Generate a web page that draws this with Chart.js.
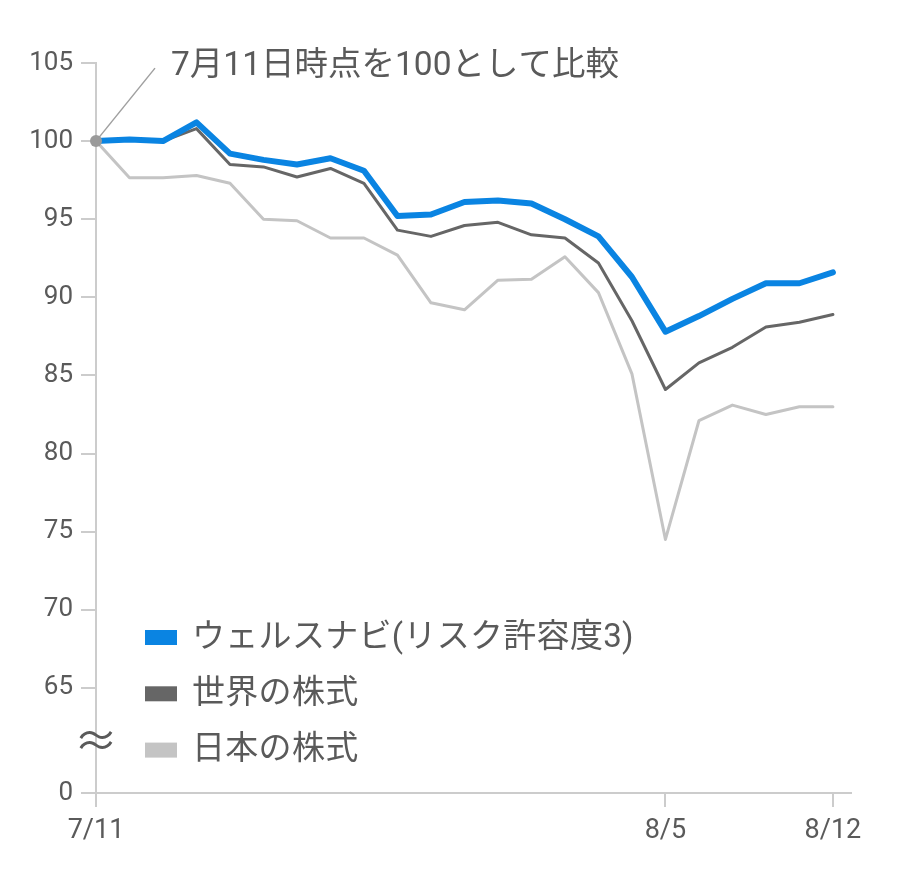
<!DOCTYPE html>
<html>
<head>
<meta charset="utf-8">
<script src="https://cdn.jsdelivr.net/npm/chart.js@4"></script>
<style>
  html, body { margin: 0; padding: 0; background: #ffffff; }
  #wrap { width: 920px; height: 884px; }
</style>
</head>
<body>
<div id="wrap"><canvas id="c" width="920" height="884"></canvas></div>
<script>
const dates = ["7/11","7/12","7/15","7/16","7/17","7/18","7/19","7/22","7/23","7/24","7/25","7/26","7/29","7/30","7/31","8/1","8/2","8/5","8/6","8/7","8/8","8/9","8/12"];
const shownDates = ["7/11","8/5","8/12"];
const seriesNames = ["ウェルスナビ(リスク許容度3)","世界の株式","日本の株式"];
const wealthnavi = [100,100.1,100.0,101.2,99.2,98.8,98.5,98.9,98.1,95.2,95.3,96.1,96.2,96.0,95.0,93.9,91.3,87.8,88.8,89.9,90.9,90.9,91.6];
const worldStocks = [100,100.1,100.0,100.8,98.5,98.35,97.7,98.25,97.3,94.3,93.9,94.6,94.8,94.0,93.8,92.2,88.5,84.1,85.8,86.8,88.1,88.4,88.9];
const japanStocks = [100,97.65,97.65,97.8,97.3,95.0,94.9,93.8,93.8,92.7,89.65,89.2,91.1,91.15,92.6,90.3,85.1,74.5,82.1,83.1,82.5,83.0,83.0];
const yTickValues = [65,70,75,80,85,90,95,100,105];
const annotationText = "7月11日時点を100として比較";

const colors = ["#0a84e2", "#666666", "#c4c4c4"];
const widths = [6, 3, 3];
const textColor = "#5a5a5a";
const axisColor = "#cccccc";
const FONT = "Roboto, 'Noto Sans CJK JP', sans-serif";
// y-axis break: "0" is drawn 105px below 65 (15.6 px per unit above the break)
const Y_BREAK_MIN = 65 - 105 / 15.6;

function toPoints(arr) { return arr.map((v, i) => ({ x: i, y: v })); }

const overlay = {
  id: 'overlay',
  afterDatasetsDraw(chart) {
    const ctx = chart.ctx;
    const xs = chart.scales.x, ys = chart.scales.y;
    const px = xs.getPixelForValue(0), py = ys.getPixelForValue(wealthnavi[0]);
    // leader line
    ctx.save();
    ctx.strokeStyle = "#a0a0a0";
    ctx.lineWidth = 1.5;
    ctx.beginPath();
    ctx.moveTo(px, py);
    ctx.lineTo(px + 59, py - 73);
    ctx.stroke();
    // base point
    ctx.fillStyle = "#9a9a9a";
    ctx.beginPath();
    ctx.arc(px, py, 6, 0, Math.PI * 2);
    ctx.fill();
    // annotation text
    ctx.fillStyle = textColor;
    ctx.font = "33.5px " + FONT;
    ctx.textBaseline = "middle";
    ctx.textAlign = "left";
    ctx.fillText(annotationText, px + 75, py - 74);
    // break symbol
    ctx.font = "44px 'Noto Sans CJK JP', sans-serif";
    ctx.textAlign = "center";
    ctx.fillText("≈", chart.chartArea.left, ys.getPixelForValue(65) + 52);
    // legend
    const lx = chart.chartArea.left + 49;
    const ly0 = 637.5, dy = 56.3;
    ctx.font = "33px " + FONT;
    ctx.textAlign = "left";
    ctx.letterSpacing = "0.3px";
    seriesNames.forEach((name, i) => {
      const y = ly0 + i * dy;
      ctx.fillStyle = colors[i];
      ctx.fillRect(lx, y - 7.5, 32, 15);
      ctx.fillStyle = textColor;
      ctx.fillText(name, lx + 47, y + 1);
    });
    ctx.restore();
  }
};

new Chart(document.getElementById('c'), {
  type: 'line',
  data: {
    datasets: [wealthnavi, worldStocks, japanStocks].map((arr, i) => ({
      label: seriesNames[i],
      data: toPoints(arr),
      borderColor: colors[i],
      backgroundColor: colors[i],
      borderWidth: widths[i],
      pointRadius: 0,
      tension: 0,
      borderJoinStyle: 'round',
      borderCapStyle: 'round'
    }))
  },
  options: {
    responsive: false,
    animation: false,
    devicePixelRatio: 1,
    layout: { padding: { left: 0, top: 63, right: 69, bottom: 0 } },
    plugins: { legend: { display: false }, tooltip: { enabled: false } },
    scales: {
      x: {
        type: 'linear',
        min: 0,
        max: 22.54,
        afterBuildTicks(s) {
          s.ticks = shownDates.map(d => ({ value: dates.indexOf(d) }));
        },
        afterFit(s) { s.height = 91; },
        ticks: {
          autoSkip: false,
          maxRotation: 0,
          padding: 8,
          color: textColor,
          font: { family: FONT, size: 27 },
          callback: (v) => dates[v]
        },
        grid: { drawOnChartArea: false, drawTicks: true, tickLength: 14, color: axisColor, lineWidth: 2 },
        border: { display: true, color: axisColor, width: 2 }
      },
      y: {
        type: 'linear',
        min: Y_BREAK_MIN,
        max: 105,
        afterBuildTicks(s) {
          s.ticks = [{ value: Y_BREAK_MIN }].concat(yTickValues.map(v => ({ value: v })));
        },
        afterFit(s) { s.width = 96; },
        ticks: {
          autoSkip: false,
          padding: 8,
          color: textColor,
          font: { family: FONT, size: 26 },
          callback: (v) => (v < 60 ? "0" : String(v))
        },
        grid: { drawOnChartArea: false, drawTicks: true, tickLength: 15, color: axisColor, lineWidth: 2 },
        border: { display: true, color: axisColor, width: 2 }
      }
    }
  },
  plugins: [overlay]
});
</script>
</body>
</html>
